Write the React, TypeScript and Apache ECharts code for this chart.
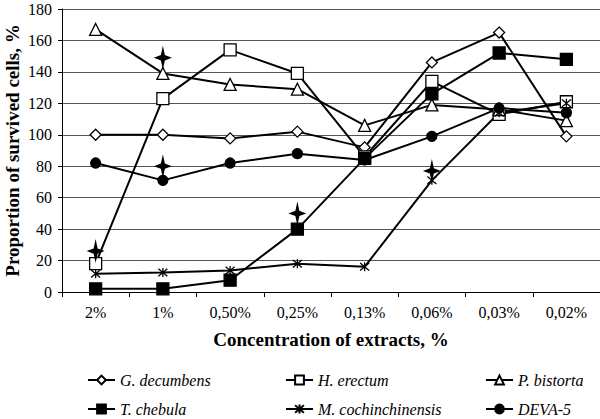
import React, { useEffect, useRef } from "react";
import * as echarts from "echarts";

const categories = ["2%", "1%", "0,50%", "0,25%", "0,13%", "0,06%", "0,03%", "0,02%"];
const gDecumbens = [100, 100, 97.7, 102, 92, 146, 165, 99];
const hErectum = [18, 123, 154, 139, 86, 134, 113, 121];
const pBistorta = [167, 139, 132, 129, 106, 119, 116, 109];
const tChebula = [2, 2, 7.5, 40, 85, 126, 152, 148];
const mCochinchinensis = [11.6, 12.4, 13.7, 18, 16, 71, 114, 120];
const deva5 = [82, 71, 82, 88, 84, 99, 117, 114];
const significance = [[0, 26], [1, 149], [1, 80], [3, 50], [5, 77]];
const yTicks = { min: 0, max: 180, interval: 20 };

const SERIF = "Liberation Serif";
const STAR = "path://M10,0 L12.2,7.8 L20,10 L12.2,12.2 L10,20 L7.8,12.2 L0,10 L7.8,7.8 Z";
const ASTER = "path://M0,0 L10,10 M10,0 L0,10 M5,-1 L5,11";

const seriesDefs = [
  { name: "G. decumbens", data: gDecumbens, symbol: "diamond", size: 11, fill: "#fff" },
  { name: "H. erectum", data: hErectum, symbol: "rect", size: 12, fill: "#fff" },
  { name: "P. bistorta", data: pBistorta, symbol: "triangle", size: 12, fill: "#fff" },
  { name: "T. chebula", data: tChebula, symbol: "rect", size: 12, fill: "#000" },
  { name: "M. cochinchinensis", data: mCochinchinensis, symbol: ASTER, size: 9, fill: "none" },
  { name: "DEVA-5", data: deva5, symbol: "circle", size: 10, fill: "#000" },
];

const legendPos = [
  { left: 87, top: 370 },
  { left: 285, top: 370 },
  { left: 485, top: 370 },
  { left: 87, top: 399 },
  { left: 285, top: 399 },
  { left: 485, top: 399 },
];

export default function App() {
  const ref = useRef<HTMLDivElement>(null);
  useEffect(() => {
    document.body.style.margin = "0";
    document.body.style.overflow = "hidden";
    const chart = echarts.init(ref.current!, null, { renderer: "svg" });
    chart.setOption({
      animation: false,
      backgroundColor: "#fff",
      textStyle: { fontFamily: SERIF },
      grid: { left: 62, right: 0, top: 9, bottom: 127, containLabel: false, outerBoundsMode: "none" },
      legend: seriesDefs.map((s, i) => ({
        data: [s.name],
        left: legendPos[i].left,
        top: legendPos[i].top,
        padding: 0,
        itemWidth: 27,
        itemHeight: 11,
        itemGap: 6,
        textStyle: { fontFamily: SERIF, fontStyle: "italic", fontSize: 16, color: "#000", lineHeight: 20 },
      })),
      xAxis: {
        type: "category",
        data: categories,
        boundaryGap: true,
        axisLine: { lineStyle: { color: "#000", width: 1 } },
        axisTick: { show: true, length: 5, alignWithLabel: false, lineStyle: { color: "#000" } },
        axisLabel: { fontFamily: SERIF, fontSize: 16, color: "#000", margin: 12, interval: 0 },
        name: "Concentration of extracts, %",
        nameLocation: "middle",
        nameGap: 38,
        nameMoveOverlap: false,
        nameTextStyle: { fontFamily: SERIF, fontWeight: "bold", fontSize: 19, color: "#000" },
      },
      yAxis: {
        type: "value",
        min: yTicks.min,
        max: yTicks.max,
        interval: yTicks.interval,
        axisLine: { show: true, lineStyle: { color: "#000", width: 1 } },
        axisTick: { show: true, length: 4, lineStyle: { color: "#000" } },
        splitLine: { show: true, lineStyle: { color: "#555", width: 1 } },
        axisLabel: { fontFamily: SERIF, fontSize: 16, color: "#000", margin: 10 },
        name: "Proportion of survived cells, %",
        nameLocation: "middle",
        nameRotate: 90,
        nameGap: 40,
        nameMoveOverlap: false,
        nameTextStyle: { fontFamily: SERIF, fontWeight: "bold", fontSize: 19, color: "#000" },
      },
      series: [
        ...seriesDefs.map((s) => ({
          name: s.name,
          type: "line",
          data: s.data,
          symbol: s.symbol,
          symbolSize: s.size,
          showAllSymbol: true,
          lineStyle: { color: "#000", width: 2 },
          itemStyle: { color: s.fill, borderColor: "#000", borderWidth: 1.3 },
          z: 2,
        })),
        {
          name: "significance",
          type: "scatter",
          data: significance,
          symbol: STAR,
          symbolSize: [18, 24],
          itemStyle: { color: "#000", opacity: 1 },
          z: 5,
        },
      ],
    });
    return () => chart.dispose();
  }, []);
  return <div ref={ref} style={{ width: 600, height: 419 }} />;
}
